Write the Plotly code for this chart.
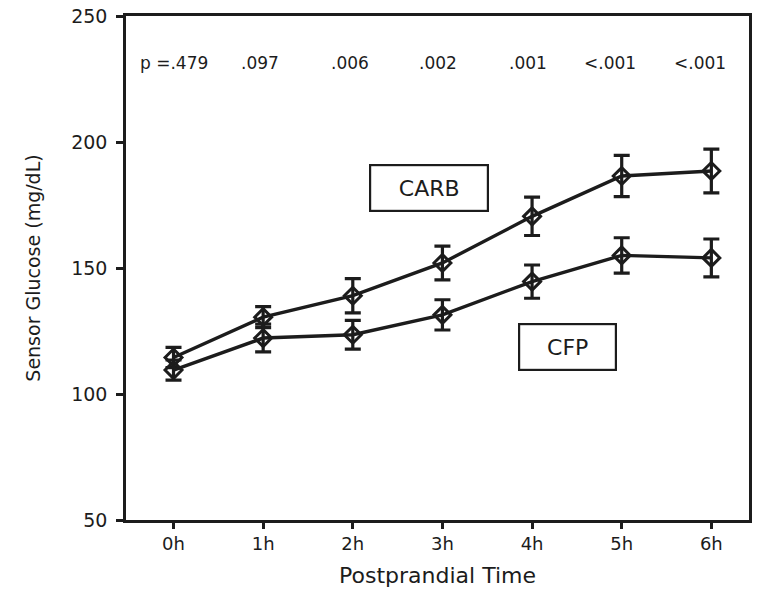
import plotly.graph_objects as go

# Postprandial time points
times = ["0h", "1h", "2h", "3h", "4h", "5h", "6h"]

# Sensor glucose means (mg/dL) and error bar half-widths
carb_mean = [114.5, 130.5, 139.0, 152.0, 170.5, 186.5, 188.5]
carb_err = [4.0, 4.2, 6.8, 6.7, 7.6, 8.2, 8.7]
cfp_mean = [109.5, 122.2, 123.5, 131.4, 144.6, 155.0, 154.0]
cfp_err = [4.0, 5.5, 5.7, 6.0, 6.6, 7.0, 7.5]

# p-values comparing the two meals at each time point
p_labels = ["p =.479", ".097", ".006", ".002", ".001", "<.001", "<.001"]
p_shift = [0, -3, -3, -4, -4, -12, -11]

FONT = "DejaVu Sans, Verdana, sans-serif"
INK = "#1c1c1c"

fig = go.Figure()

for name, mean, err in [("CARB", carb_mean, carb_err), ("CFP", cfp_mean, cfp_err)]:
    fig.add_trace(go.Scatter(
        x=times, y=mean, name=name, mode="lines+markers",
        line=dict(color=INK, width=3.4),
        marker=dict(symbol="diamond-open", size=13, color=INK,
                    line=dict(width=3, color=INK)),
        error_y=dict(type="data", array=err, visible=True,
                     color=INK, thickness=3.2, width=8),
        showlegend=False,
    ))

# p-value row along the top of the plot
for t, lab, dx in zip(times, p_labels, p_shift):
    fig.add_annotation(x=t, y=231.5, text=lab, showarrow=False,
                       xshift=dx, font=dict(family=FONT, size=17, color=INK))

# boxed series labels
fig.add_annotation(x=2.85, y=181.6, text="CARB", showarrow=False,
                   font=dict(family=FONT, size=22, color=INK),
                   bordercolor=INK, borderwidth=2.2, borderpad=12,
                   bgcolor="white", width=92, height=20)
fig.add_annotation(x=4.39, y=118.8, text="CFP", showarrow=False,
                   font=dict(family=FONT, size=22, color=INK),
                   bordercolor=INK, borderwidth=2.2, borderpad=12,
                   bgcolor="white", width=71, height=20)

fig.update_layout(
    width=757, height=590,
    margin=dict(l=126, r=5, t=15, b=69),
    paper_bgcolor="white", plot_bgcolor="white",
    font=dict(family=FONT, color=INK),
)
fig.update_xaxes(
    type="category", categoryorder="array", categoryarray=times,
    range=[-0.53, 6.42],
    showline=True, linecolor=INK, linewidth=2.5, mirror=True,
    ticks="outside", ticklen=6, tickwidth=2.5, tickcolor=INK,
    showgrid=False, zeroline=False,
    tickfont=dict(family=FONT, size=18, color=INK),
    title=dict(text="Postprandial Time", font=dict(family=FONT, size=22, color=INK),
               standoff=15),
)
fig.update_yaxes(
    range=[50, 250], tickvals=[50, 100, 150, 200, 250],
    showline=True, linecolor=INK, linewidth=2.5, mirror=True,
    ticks="outside", ticklen=7, tickwidth=2.5, tickcolor=INK,
    ticklabelstandoff=5,
    showgrid=False, zeroline=False,
    tickfont=dict(family=FONT, size=19, color=INK),
    title=dict(text="Sensor Glucose (mg/dL)", font=dict(family=FONT, size=19, color=INK),
               standoff=26),
)

fig.write_html("out.html")
